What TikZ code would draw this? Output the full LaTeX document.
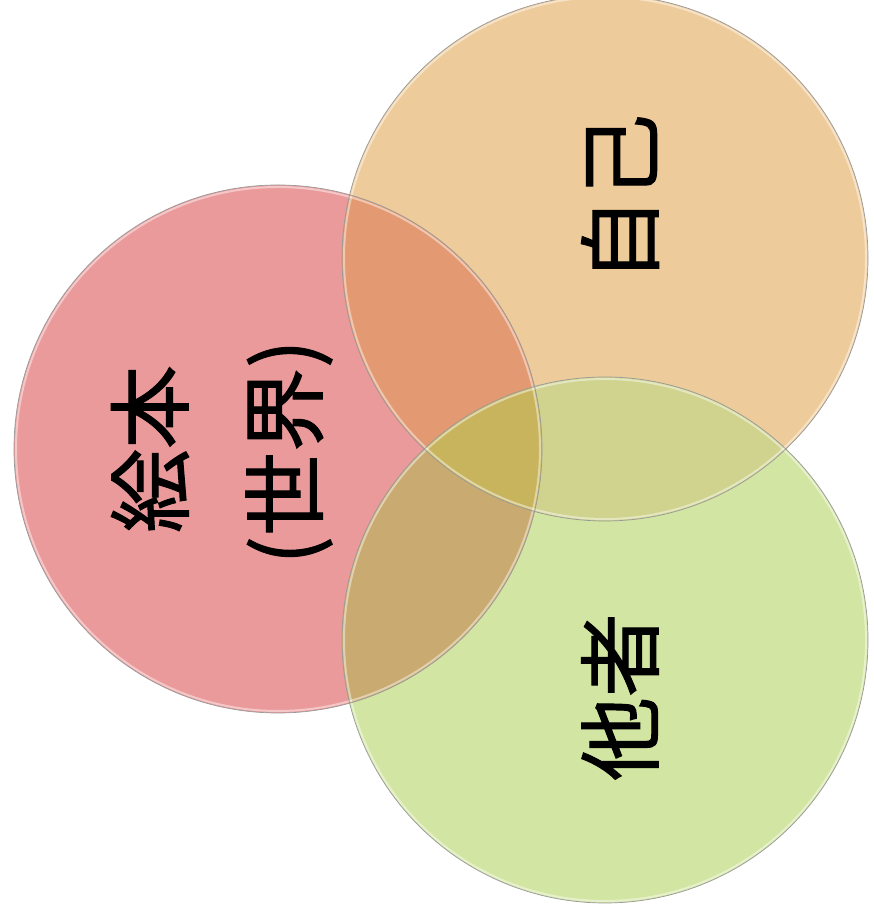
\documentclass[tikz,border=0pt]{standalone}
\usepackage{fontspec}
\newfontfamily\cjk{Noto Sans CJK JP}[FakeBold=1.2]
\definecolor{cR}{HTML}{EA9A9A}
\definecolor{cO}{HTML}{EECB9A}
\definecolor{cG}{HTML}{D2E5A2}
\definecolor{cRO}{HTML}{E39A72}
\definecolor{cRG}{HTML}{C9AA70}
\definecolor{cOG}{HTML}{CFD38E}
\definecolor{cROG}{HTML}{C8B45C}
\begin{document}
\begin{tikzpicture}[x=1pt,y=1pt,
  lab/.style={font=\cjk\fontsize{84pt}{84pt}\selectfont, rotate=90, inner sep=0pt, text=black},
  rim/.style={draw=black!40, line width=0.7pt},
  glow/.style={draw=white, opacity=0.45, line width=2pt}]
\useasboundingbox (0,0) rectangle (874,923);
\def\cRed{(278,474) circle[radius=264]}
\def\cOra{(605,665) circle[radius=263]}
\def\cGre{(605,283) circle[radius=263]}
% single fills
\fill[cR] \cRed;
\fill[cO] \cOra;
\fill[cG] \cGre;
% pairwise overlaps
\begin{scope}\clip \cRed; \fill[cRO] \cOra; \end{scope}
\begin{scope}\clip \cRed; \fill[cRG] \cGre; \end{scope}
\begin{scope}\clip \cOra; \fill[cOG] \cGre; \end{scope}
% triple overlap
\begin{scope}\clip \cRed; \clip \cOra; \fill[cROG] \cGre; \end{scope}
% rims
\draw[glow] (278,474) circle[radius=262];
\draw[glow] (605,665) circle[radius=261];
\draw[glow] (605,283) circle[radius=261];
\draw[rim] \cRed;
\draw[rim] \cOra;
\draw[rim] \cGre;
% labels
\node[lab] (ehon) at (150,474) {絵本};
\node[lab] (sekai) at (289,471) {(世界)};
\node[lab] (jiko) at (620,725) {自己};
\node[lab] (tasha) at (620,226) {他者};
\end{tikzpicture}
\end{document}
